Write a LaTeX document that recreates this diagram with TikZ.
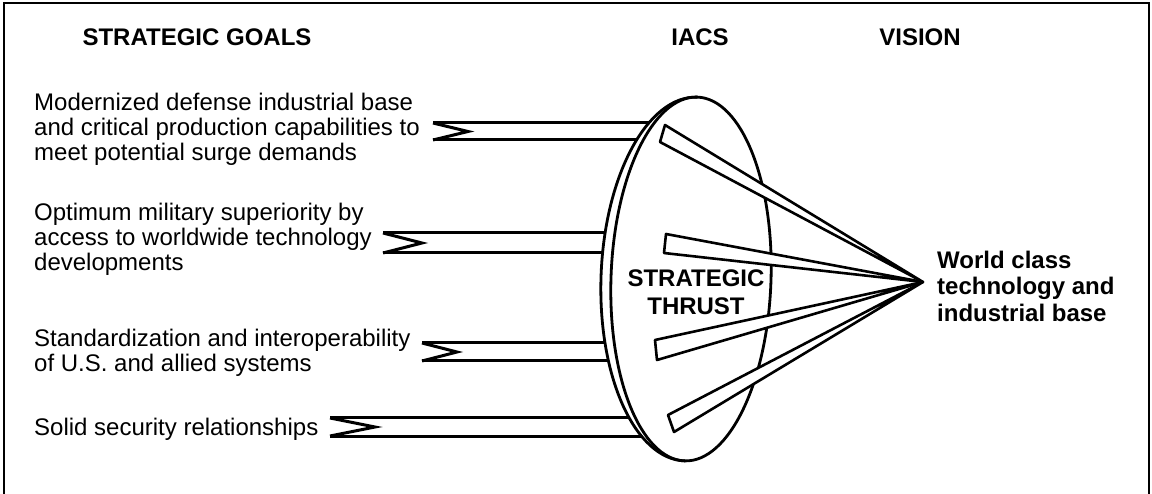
\documentclass[tikz,border=0pt]{standalone}
\usepackage{fontspec}
\setmainfont{Liberation Sans}
\begin{document}
\begin{tikzpicture}[x=1pt,y=-1pt,
  frame/.style={line width=2pt},
  rim/.style={line width=2.8pt},
  barline/.style={line width=3pt, line cap=butt},
  wedge/.style={draw, fill=white, line width=2.6pt, line join=round},
  goal/.style={font=\fontsize{24}{25}\selectfont, align=left, inner sep=0pt, anchor=west},
  head/.style={font=\bfseries\fontsize{24}{27}\selectfont, inner sep=0pt},
  vision/.style={font=\bfseries\fontsize{24}{26.5}\selectfont, align=left, inner sep=0pt, anchor=west},
  thrust/.style={font=\bfseries\fontsize{24}{28}\selectfont, align=center, inner sep=0pt}]
\useasboundingbox (0,0) rectangle (1152,494);
% frame
\draw[frame] (4,496) -- (4,3) -- (1149,3) -- (1149,496);
% headers
\node[head] (hgoals) at (197,37) {STRATEGIC GOALS};
\node[head] (hiacs) at (700,37) {IACS};
\node[head] (hvision) at (920,37) {VISION};
% goal texts
\node[goal] (g1) at (34,129) {Modernized defense industrial base\\and critical production capabilities to\\meet potential surge demands};
\node[goal] (g2) at (34,239) {Optimum military superiority by\\access to worldwide technology\\developments};
\node[goal] (g3) at (34,353) {Standardization and interoperability\\of U.S. and allied systems};
\node[goal] (g4) at (34,429) {Solid security relationships};
% bars (tails), ending under the disc
\foreach \t/\b/\a/\n in {123/140/433/468, 233/253/383/422, 343/361/422/457, 418/436/330/375}{
  \draw[barline] (\a,\t) -- (720,\t) (\a,\b) -- (720,\b);
  \draw[barline, line join=miter] (\a,\t) -- (\n,{(\t+\b)/2}) -- (\a,\b);
}
% disc
\coordinate (dc) at (691,279);
\fill[white, rotate around={-2:(dc)}] (dc) ellipse [x radius=90, y radius=182];
\draw[rim, rotate around={-2:(dc)}] (dc) ellipse [x radius=80, y radius=182];
\draw[rim, rotate around={-2:(dc)}] (691,97) arc[start angle=270, end angle=90, x radius=90, y radius=182];
% wedges
\coordinate (apex) at (923,282);
\filldraw[wedge] (665,125) -- (apex) -- (660,142) -- cycle;
\filldraw[wedge] (666,234) -- (apex) -- (664,253) -- cycle;
\filldraw[wedge] (655,340) -- (apex) -- (657,360) -- cycle;
\filldraw[wedge] (668,415) -- (apex) -- (674,432) -- cycle;
% labels
\node[thrust] (st) at (696,292) {STRATEGIC\\THRUST};
\node[vision] (vis) at (937,286) {World class\\technology and\\industrial base};
\end{tikzpicture}
\end{document}
